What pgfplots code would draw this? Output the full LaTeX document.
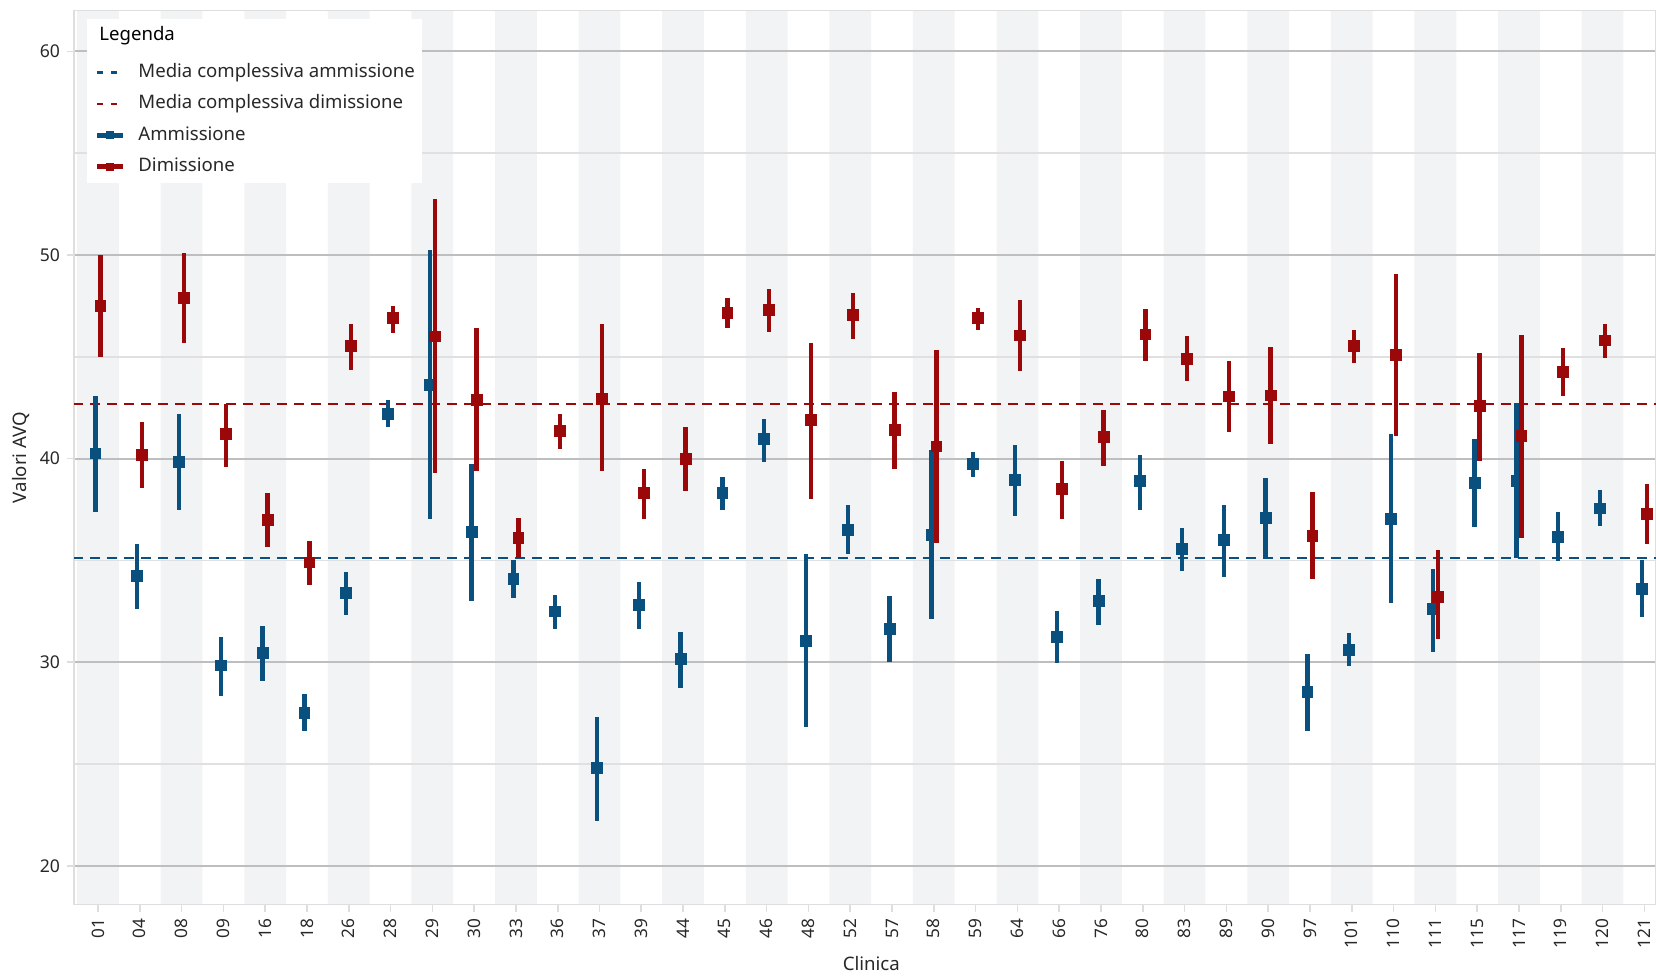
\documentclass[border=0pt]{standalone}
\usepackage{pgfplots}
\pgfplotsset{compat=1.18}
\usepackage{pgfplotstable}
\usepackage{fontspec}
\setmainfont{Noto Sans}

\definecolor{cblue}{RGB}{10,80,126}
\definecolor{cred}{RGB}{155,8,10}
\definecolor{band}{RGB}{242,243,245}
\definecolor{gmaj}{RGB}{190,190,190}
\definecolor{gmin}{RGB}{224,224,224}
\definecolor{frame}{RGB}{222,222,222}
\definecolor{txt}{RGB}{40,40,40}

% i  y(ammissione) lo hi  | y(dimissione) lo hi
\pgfplotstableread{
i  am    amlo  amhi   di    dilo  dihi
0  40.26 37.36 43.06  47.50 45.00 50.00
1  34.25 32.60 35.80  40.20 38.55 41.80
2  39.85 37.50 42.20  47.90 45.70 50.10
3  29.85 28.35 31.25  41.20 39.60 42.70
4  30.47 29.10 31.80  37.00 35.65 38.30
5  27.50 26.60 28.45  34.90 33.80 35.95
6  33.40 32.30 34.45  45.55 44.35 46.60
7  42.20 41.55 42.90  46.90 46.15 47.50
8  43.60 37.05 50.26  46.00 39.30 52.75
9  36.40 33.00 39.74  42.90 39.40 46.40
10 34.10 33.15 35.00  36.10 35.10 37.10
11 32.50 31.65 33.30  41.35 40.45 42.20
12 24.80 22.20 27.30  42.95 39.40 46.60
13 32.80 31.65 33.95  38.30 37.05 39.50
14 30.15 28.75 31.50  40.00 38.40 41.55
15 38.30 37.50 39.10  47.15 46.40 47.90
16 40.95 39.85 41.95  47.30 46.20 48.35
17 31.05 26.80 35.30  41.90 38.00 45.70
18 36.50 35.30 37.70  47.05 45.85 48.15
19 31.65 30.00 33.25  41.40 39.50 43.25
20 36.25 32.10 40.40  40.60 35.85 45.35
21 39.75 39.10 40.30  46.90 46.30 47.40
22 38.95 37.20 40.65  46.05 44.30 47.80
23 31.25 29.95 32.50  38.50 37.05 39.90
24 33.00 31.85 34.10  41.05 39.65 42.40
25 38.90 37.50 40.20  46.10 44.80 47.35
26 35.55 34.50 36.60  44.90 43.80 46.00
27 36.00 34.20 37.70  43.05 41.30 44.80
28 37.10 35.10 39.05  43.10 40.70 45.50
29 28.55 26.60 30.40  36.20 34.10 38.35
30 30.60 29.80 31.45  45.55 44.70 46.30
31 37.05 32.90 41.20  45.10 41.10 49.05
32 32.60 30.50 34.60  33.20 31.15 35.50
33 38.80 36.65 40.95  42.60 39.90 45.20
34 38.90 35.10 42.75  41.10 36.10 46.05
35 36.15 34.95 37.40  44.25 43.05 45.45
36 37.55 36.70 38.45  45.80 44.95 46.60
37 33.60 32.20 35.00  37.30 35.80 38.75
}\clin

\begin{document}
\begin{tikzpicture}
\begin{axis}[
  name=ax,
  set layers,
  clip mode=individual,
  scale only axis,
  width=791pt, height=447pt,
  xmin=-0.574, xmax=37.28,
  ymin=18.1, ymax=62,
  enlargelimits=false,
  xtick={0,...,37},
  xticklabels={01,04,08,09,16,18,26,28,29,30,33,36,37,39,44,45,46,48,52,57,58,59,64,66,76,80,83,89,90,97,101,110,111,115,117,119,120,121},
  xticklabel style={rotate=90, anchor=east, font=\fontsize{8.6}{10}\selectfont, text=txt},
  ytick={20,30,40,50,60},
  minor ytick={25,35,45,55},
  yticklabel style={font=\fontsize{8.8}{10}\selectfont, text=txt},
  /pgf/number format/assume math mode=true,
  ymajorgrids, yminorgrids,
  major grid style={draw=gmaj, line width=1pt},
  minor grid style={draw=gmin, line width=0.8pt},
  minor tick length=0pt,
  major tick length=3.5pt,
  tick align=outside,
  xtick pos=bottom, ytick pos=left,
  tick style={draw=frame, line width=0.8pt},
  axis line style={draw=frame, line width=0.8pt},
  xlabel={Clinica},
  ylabel={Valori AVQ},
  xlabel style={at={(axis description cs:0.504,-0.066)}, anchor=center, font=\fontsize{9.3}{11}\selectfont, text=txt},
  ylabel style={at={(axis description cs:-0.0335,0.5)}, anchor=center, font=\fontsize{9.3}{11}\selectfont, text=txt},
  legend cell align=left,
  legend style={at={(axis description cs:0,1)}, anchor=north west,
    xshift=6.5pt, yshift=-4.2pt, draw=none, fill=white,
    inner xsep=3.5pt, inner ysep=3.5pt, row sep=6.5pt, column sep=6.5pt,
    font=\fontsize{9.3}{11}\selectfont, text=txt,
    nodes={inner sep=0pt, text height=7pt, text depth=2.2pt}},
]

% shaded bands behind every other clinic
\addplot[ybar, bar width=1, fill=band, draw=none, on layer=axis background, forget plot]
  coordinates {(0,70) (2,70) (4,70) (6,70) (8,70) (10,70) (12,70) (14,70) (16,70) (18,70)
               (20,70) (22,70) (24,70) (26,70) (28,70) (30,70) (32,70) (34,70) (36,70)};

\addlegendimage{empty legend}
\addlegendentry[text depth=5pt, text=black]{\hspace*{-19.5pt}Legenda}

\addplot[cblue, line width=1.1pt, dash pattern=on 5pt off 3.5pt,
  legend image code/.code={\draw[cblue, line width=1.1pt, dash pattern=on 3pt off 4pt] (0pt,0pt) -- (10pt,0pt);}]
  coordinates {(-1,35.13) (39,35.13)};
\addlegendentry{Media complessiva ammissione}

\addplot[cred, line width=1.1pt, dash pattern=on 5pt off 3.5pt,
  legend image code/.code={\draw[cred, line width=1.1pt, dash pattern=on 3pt off 4pt] (0pt,0pt) -- (10pt,0pt);}]
  coordinates {(-1,42.7) (39,42.7)};
\addlegendentry{Media complessiva dimissione}

\addplot[only marks, mark=square*, mark size=2.7pt, color=cblue,
  legend image code/.code={\draw[cblue, line width=2.5pt] (0pt,0pt) -- (13pt,0pt);
    \fill[cblue] (4.75pt,-1.75pt) rectangle (8.25pt,1.75pt);},
  error bars/.cd, y dir=both, y explicit, error mark=none,
  error bar style={line width=2.2pt, cblue}]
  table[x expr=\thisrow{i}-0.06, y=am,
        y error plus expr=\thisrow{amhi}-\thisrow{am},
        y error minus expr=\thisrow{am}-\thisrow{amlo}] {\clin};
\addlegendentry{Ammissione}

\addplot[only marks, mark=square*, mark size=2.7pt, color=cred,
  legend image code/.code={\draw[cred, line width=2.5pt] (0pt,0pt) -- (13pt,0pt);
    \fill[cred] (4.75pt,-1.75pt) rectangle (8.25pt,1.75pt);},
  error bars/.cd, y dir=both, y explicit, error mark=none,
  error bar style={line width=2.2pt, cred}]
  table[x expr=\thisrow{i}+0.06, y=di,
        y error plus expr=\thisrow{dihi}-\thisrow{di},
        y error minus expr=\thisrow{di}-\thisrow{dilo}] {\clin};
\addlegendentry{Dimissione}
\end{axis}
\pgfresetboundingbox
\path[use as bounding box] ([xshift=-37pt,yshift=-36pt]ax.south west) rectangle ([yshift=5.3pt]ax.north east);
\end{tikzpicture}
\end{document}
